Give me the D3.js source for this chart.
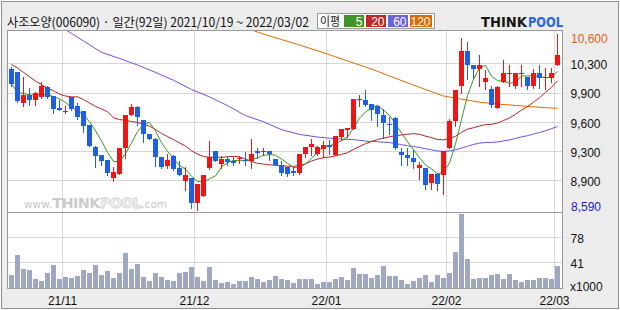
<!DOCTYPE html>
<html>
<head>
<meta charset="utf-8">
<script src="https://cdnjs.cloudflare.com/ajax/libs/d3/7.8.5/d3.min.js"></script>
<style>
  body { margin: 0; background: #fff; }
  svg { display: block; }
</style>
</head>
<body>
<div id="chart"></div>
<script>
// trading days, 2021/10/19 ~ 2022/03/02 (92 days)
const months = [
  ["21", "10", [19, 20, 21, 22, 25, 26, 27, 28, 29]],
  ["21", "11", [1, 2, 3, 4, 5, 8, 9, 10, 11, 12, 15, 16, 17, 18, 19, 22, 23, 24, 25, 26, 29, 30]],
  ["21", "12", [1, 2, 3, 6, 7, 8, 9, 10, 13, 14, 15, 16, 17, 20, 21, 22, 23, 24, 27, 28, 29, 30]],
  ["22", "01", [3, 4, 5, 6, 7, 10, 11, 12, 13, 14, 17, 18, 19, 20, 21, 24, 25, 26, 27, 28]],
  ["22", "02", [3, 4, 7, 8, 9, 10, 11, 14, 15, 16, 17, 18, 21, 22, 23, 24, 25, 28]],
  ["22", "03", [2]]
];

const open = [10200, 10160, 9810, 9900, 9840, 9880, 9990, 9890, 9750, 9710,
  9880, 9780, 9720, 9560, 9310, 9210, 9160, 8950, 9000, 9300,
  9670, 9760, 9620, 9450, 9400, 9190, 9090, 9200, 9070, 8920,
  8950, 8660, 8740, 9070, 9260, 9110, 9170, 9140, 9170, 9160,
  9140, 9260, 9250, 9260, 9170, 9100, 9080, 9030, 9010, 9230,
  9310, 9230, 9280, 9330, 9210, 9420, 9500, 9510, 9850, 9840,
  9800, 9780, 9670, 9570, 9640, 9250, 9210, 9180, 9070, 9070,
  8890, 9000, 8980, 9300, 9600, 10000, 10400, 10250, 10200, 10050,
  9970, 9750, 10050, 10140, 10000, 10140, 10110, 10000, 10150, 10100,
  10100, 10250];
const high = [10220, 10170, 10110, 9980, 9940, 10050, 10000, 9890, 9840, 9770,
  9880, 9810, 9720, 9560, 9320, 9210, 9160, 9080, 9300, 9670,
  9800, 9770, 9620, 9450, 9410, 9190, 9230, 9210, 9140, 9080,
  8950, 8880, 8990, 9380, 9260, 9200, 9200, 9190, 9200, 9250,
  9400, 9300, 9300, 9260, 9170, 9140, 9080, 9080, 9230, 9310,
  9400, 9320, 9380, 9390, 9430, 9510, 9520, 9860, 9900, 9960,
  9800, 9780, 9740, 9650, 9650, 9300, 9300, 9270, 9130, 9070,
  9000, 9010, 9260, 9630, 9960, 10550, 10510, 10250, 10360, 10190,
  10000, 10000, 10300, 10250, 10150, 10250, 10110, 10200, 10250, 10210,
  10210, 10600];
const low = [10000, 9820, 9770, 9790, 9790, 9870, 9870, 9700, 9730, 9690,
  9730, 9630, 9480, 9320, 9080, 9100, 8990, 8920, 9000, 9180,
  9670, 9560, 9360, 9400, 9090, 9060, 9060, 9040, 8990, 8810,
  8610, 8590, 8740, 9050, 9150, 9060, 9100, 9100, 9120, 9100,
  9070, 9180, 9210, 9160, 9100, 8990, 8970, 8990, 9000, 9190,
  9210, 9210, 9190, 9230, 9210, 9390, 9420, 9510, 9770, 9780,
  9620, 9550, 9410, 9460, 9280, 9100, 9100, 9060, 8940, 8830,
  8830, 8810, 8770, 9300, 9550, 9920, 10090, 10100, 10000, 9970,
  9760, 9750, 10050, 10000, 9980, 10000, 9970, 9980, 9980, 9970,
  10050, 10250];
const close = [10030, 9830, 9900, 9840, 9930, 10010, 9880, 9740, 9730, 9720,
  9740, 9650, 9550, 9320, 9200, 9150, 9010, 9020, 9300, 9670,
  9760, 9650, 9450, 9400, 9190, 9080, 9160, 9050, 8990, 8990,
  8660, 8880, 8990, 9190, 9150, 9170, 9130, 9120, 9180, 9140,
  9230, 9240, 9260, 9230, 9100, 9010, 9000, 9010, 9230, 9310,
  9340, 9310, 9330, 9310, 9430, 9510, 9520, 9860, 9860, 9790,
  9730, 9680, 9580, 9560, 9300, 9210, 9180, 9130, 9100, 8870,
  9000, 8880, 9260, 9600, 9960, 10400, 10250, 10200, 10250, 10100,
  9790, 9990, 10150, 10150, 10150, 10150, 10000, 10150, 10100, 10110,
  10150, 10360];
// volume, x1000
const volume = [22, 52, 31, 30, 16, 13, 25, 37, 16, 19,
  18, 21, 30, 25, 37, 22, 28, 18, 25, 55,
  31, 38, 19, 13, 25, 19, 15, 13, 25, 27,
  34, 19, 13, 34, 15, 10, 12, 9, 13, 13,
  19, 16, 12, 15, 21, 16, 15, 10, 16, 16,
  16, 9, 12, 12, 16, 19, 15, 33, 24, 24,
  18, 22, 36, 21, 21, 15, 9, 13, 18, 22,
  12, 22, 18, 25, 56, 112, 46, 16, 18, 18,
  22, 24, 16, 24, 15, 12, 15, 15, 18, 18,
  16, 36];

// moving averages that need days before the window
const ma20Lead = [10250, 10210, 10160, 10110, 10060, 10020, 9980, 9950, 9910, 9890,
  9880, 9880, 9850, 9810, 9770, 9740, 9710, 9640, 9620];
const ma60LeadIdx = [9, 12, 15, 18, 21, 24, 27, 30, 33, 36, 39, 42, 45, 48, 51, 54, 57];
const ma60Lead = [10650, 10520, 10390, 10320, 10245, 10160, 10070, 9965, 9880, 9780,
  9665, 9595, 9505, 9450, 9420, 9400, 9390];
const ma120Idx = [40, 42, 45, 48, 51, 54, 57, 60, 63, 66, 69, 72, 75, 78, 81, 84, 87, 90, 91];
const ma120 = [10646, 10600, 10537, 10474, 10408, 10339, 10268, 10199, 10119, 10041,
  9964, 9890, 9853, 9819, 9798, 9782, 9766, 9752, 9749];

const priceMin = 8590, priceMax = 10600;
const priceTicks = [8925, 9260, 9595, 9930, 10265];
const volTicks = [41, 78];

const W = 620, H = 310;
const pL = 7, pR = 562, pT = 30, pSep = 212, pB = 288;
const upCol = "#ee1515", downCol = "#1f5fe2";
const numFont = "'Liberation Sans', Arial, sans-serif";

const dates = [];
months.forEach(([yy, mm, ds]) => ds.forEach(d => dates.push({ yy, mm, d })));
const monthStarts = dates.map((d, i) => i).filter(i => i > 0 && dates[i].mm !== dates[i - 1].mm);

const n = close.length;
const sma = (k, i) => d3.mean(close.slice(i - k + 1, i + 1));
const ma5 = d3.range(n).map(i => ({ i, v: i >= 4 ? sma(5, i) : d3.mean(close.slice(0, i + 1)) }));
const ma20 = d3.range(n).map(i => ({ i, v: i >= 19 ? sma(20, i) : ma20Lead[i] }));
const ma60 = ma60LeadIdx.map((i, k) => ({ i, v: ma60Lead[k] }))
  .concat(d3.range(59, n).map(i => ({ i, v: sma(60, i) })));
const ma120Pts = ma120Idx.map((i, k) => ({ i, v: ma120[k] }));

const svg = d3.select("#chart").append("svg")
  .attr("width", W).attr("height", H);

// background + outer frame
svg.append("rect").attr("x", 1.5).attr("y", 1.5).attr("width", W - 3).attr("height", H - 3)
  .attr("fill", "#ececec").attr("stroke", "#8f8f8f");
svg.append("rect").attr("x", pL + 0.5).attr("y", pT + 0.5)
  .attr("width", pR - pL).attr("height", pB - pT)
  .attr("fill", "#fff");

svg.append("clipPath").attr("id", "clipP").append("rect")
  .attr("x", pL + 1).attr("y", pT + 1).attr("width", pR - pL - 1).attr("height", pSep - pT - 1);

// scales
const x = d3.scaleBand().domain(d3.range(n)).range([8.5, 560.5])
  .paddingInner(1 / 6).paddingOuter(1 / 12);
const cx = i => x(i) + x.bandwidth() / 2;
const yP = d3.scaleLinear().domain([priceMin, priceMax]).range([209.5, 34]);
const yV = d3.scaleLinear().domain([3, 112.5]).range([pB, 214]);

// grid
const grid = svg.append("g").attr("stroke", "#d6d6d6").attr("stroke-width", 1);
priceTicks.forEach(v => {
  const yy = Math.round(yP(v)) + 0.5;
  grid.append("line").attr("x1", pL + 1).attr("x2", pR).attr("y1", yy).attr("y2", yy);
});
volTicks.forEach(v => {
  const yy = Math.round(yV(v)) + 0.5;
  grid.append("line").attr("x1", pL + 1).attr("x2", pR).attr("y1", yy).attr("y2", yy);
});
monthStarts.forEach(i => {
  const xx = x(i) - 0.5;
  grid.append("line").attr("x1", xx).attr("x2", xx).attr("y1", pT + 1).attr("y2", pB);
});

// watermark (one text, several spans)
const wm = svg.append("text").attr("x", 24).attr("y", 208)
  .attr("font-family", "'DejaVu Sans', sans-serif");
wm.append("tspan").attr("font-size", 10.5).attr("fill", "#c6c6c6").text("www.");
wm.append("tspan").attr("font-size", 14.5).attr("font-weight", "bold").attr("fill", "#cbcbcb")
  .attr("letter-spacing", -0.6).text("THINK");
wm.append("tspan").attr("font-size", 14.5).attr("font-weight", "bold").attr("fill", "#f4f4f4")
  .attr("stroke", "#d2d2d2").attr("stroke-width", 0.8).attr("letter-spacing", -0.8).text("POOL");
wm.append("tspan").attr("font-size", 10.5).attr("fill", "#c6c6c6").text(".com");

// volume bars
svg.append("g").selectAll("rect").data(volume).join("rect")
  .attr("x", (d, i) => x(i))
  .attr("width", x.bandwidth())
  .attr("y", d => Math.round(yV(d)))
  .attr("height", d => pB - Math.round(yV(d)))
  .attr("fill", "#9fa7c1");

// moving averages
const line = d3.line().x(d => cx(d.i)).y(d => yP(d.v));
const maG = svg.append("g").attr("clip-path", "url(#clipP)").attr("fill", "none").attr("stroke-width", 1);
maG.append("path").datum(ma120Pts).attr("stroke", "#db6c00").attr("d", line);
maG.append("path").datum(ma60).attr("stroke", "#6655dd").attr("d", line);
maG.append("path").datum(ma20).attr("stroke", "#b52226").attr("d", line);
maG.append("path").datum(ma5).attr("stroke", "#3b9423").attr("d", line);

// candles
const candles = svg.append("g").attr("shape-rendering", "crispEdges");
d3.range(n).forEach(i => {
  const col = close[i] >= open[i] ? upCol : downCol;
  candles.append("line")
    .attr("x1", cx(i)).attr("x2", cx(i))
    .attr("y1", Math.round(yP(high[i]))).attr("y2", Math.round(yP(low[i])) + 1)
    .attr("stroke", col);
  const t = Math.round(yP(Math.max(open[i], close[i])));
  const b = Math.round(yP(Math.min(open[i], close[i])));
  candles.append("rect")
    .attr("x", x(i)).attr("width", x.bandwidth())
    .attr("y", t).attr("height", Math.max(1, b - t))
    .attr("fill", col);
});

// frame lines
const fr = svg.append("g").attr("stroke", "#9a9a9a").attr("fill", "none");
fr.append("rect").attr("x", pL + 0.5).attr("y", pT + 0.5)
  .attr("width", pR - pL).attr("height", pB - pT);
fr.append("line").attr("x1", pL).attr("x2", pR + 0.5).attr("y1", pSep + 0.5).attr("y2", pSep + 0.5);

// right price axis
const pAxis = svg.append("g").attr("transform", `translate(${pR + 0.5},0)`)
  .call(d3.axisRight(yP).tickValues(priceTicks).tickSize(0).tickPadding(8)
    .tickFormat(v => d3.format(",")(Math.round(v / 100) * 100)));
pAxis.select(".domain").remove();
pAxis.selectAll("text").attr("font-family", numFont).attr("font-size", 12).attr("fill", "#111")
  .attr("dy", "0.45em");
svg.append("text").attr("x", 571).attr("y", yP(priceMax) + 8.5)
  .attr("font-family", numFont).attr("font-size", 12).attr("fill", "#d2680c")
  .text(d3.format(",")(priceMax));
svg.append("text").attr("x", 571).attr("y", yP(priceMin) + 1.5)
  .attr("font-family", numFont).attr("font-size", 12).attr("fill", "#1c1ccc")
  .text(d3.format(",")(priceMin));

// right volume axis
const vAxis = svg.append("g").attr("transform", `translate(${pR + 0.5},0)`)
  .call(d3.axisRight(yV).tickValues(volTicks).tickSize(0).tickPadding(8));
vAxis.select(".domain").remove();
vAxis.selectAll("text").attr("font-family", numFont).attr("font-size", 12).attr("fill", "#111")
  .attr("dy", "0.45em");
svg.append("text").attr("x", 570).attr("y", pB + 3)
  .attr("font-family", numFont).attr("font-size", 12).attr("fill", "#111").text("x1000");

// month labels
svg.append("g").selectAll("text").data(monthStarts).join("text")
  .attr("x", i => x(i) - 0.5).attr("y", 305)
  .attr("text-anchor", "middle")
  .attr("font-family", numFont).attr("font-size", 12).attr("fill", "#111")
  .text(i => `${dates[i].yy}/${dates[i].mm}`);

// header
const first = dates[0], last = dates[n - 1];
const pad = d => String(d).padStart(2, "0");
svg.append("text").attr("x", 7).attr("y", 26.5)
  .attr("font-family", "'Noto Sans CJK KR', sans-serif").attr("font-size", 12.5).attr("fill", "#111")
  .attr("textLength", 302).attr("lengthAdjust", "spacingAndGlyphs")
  .text(`사조오양(006090) · 일간(${n}일) 20${first.yy}/${first.mm}/${pad(first.d)} ~ 20${last.yy}/${last.mm}/${pad(last.d)}`);

// legend
const lg = svg.append("g");
lg.append("rect").attr("x", 317.5).attr("y", 13.5).attr("width", 117).attr("height", 15)
  .attr("fill", "#fff").attr("stroke", "#9a9a9a");
lg.append("text").attr("x", 320).attr("y", 26)
  .attr("font-family", "'Noto Sans CJK KR', sans-serif").attr("font-size", 12).attr("fill", "#111")
  .attr("textLength", 20).attr("lengthAdjust", "spacingAndGlyphs").text("이평");
const legendItems = [
  { label: "5", color: "#3f952a", x0: 344, x1: 364 },
  { label: "20", color: "#c0282a", x0: 366, x1: 386 },
  { label: "60", color: "#6a62dc", x0: 388, x1: 408 },
  { label: "120", color: "#dc6a00", x0: 410, x1: 432 }
];
legendItems.forEach(it => {
  lg.append("rect").attr("x", it.x0).attr("y", 15).attr("width", it.x1 - it.x0).attr("height", 12)
    .attr("fill", it.color);
  lg.append("text").attr("x", it.x1 - 1.5).attr("y", 25.5).attr("text-anchor", "end")
    .attr("font-family", numFont).attr("font-size", 12).attr("fill", "#fff").text(it.label);
});

// logo
svg.append("text").attr("x", 481).attr("y", 27)
  .attr("font-family", "'DejaVu Sans', sans-serif").attr("font-weight", "bold").attr("font-size", 14)
  .attr("fill", "#161616").attr("textLength", 46).attr("lengthAdjust", "spacingAndGlyphs").text("THINK");
svg.append("text").attr("x", 528).attr("y", 27)
  .attr("font-family", "'DejaVu Sans', sans-serif").attr("font-weight", "bold").attr("font-size", 14)
  .attr("fill", "#2f66d8").attr("textLength", 35).attr("lengthAdjust", "spacingAndGlyphs").text("POOL");
</script>
</body>
</html>
